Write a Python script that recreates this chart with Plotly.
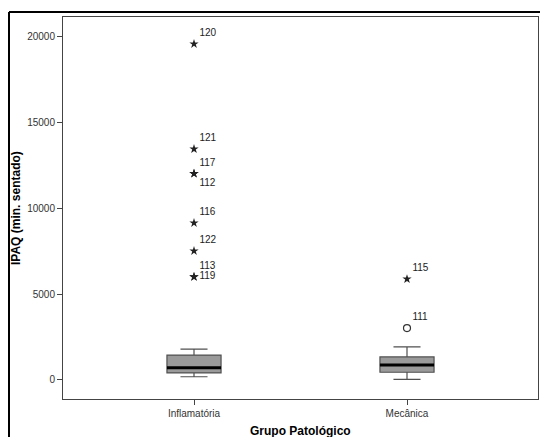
import plotly.graph_objects as go

# ---- data ----
categories = ["Inflamatória", "Mecânica"]
lower_whisker = [190, 40]
q1 = [410, 450]
median = [715, 870]
q3 = [1450, 1340]
upper_whisker = [1800, 1920]

# extreme outliers (stars)
extreme_x = [0, 0, 0, 0, 0, 0, 0, 0, 1]
extreme_y = [19535, 13430, 12000, 12000, 9130, 7500, 6000, 6000, 5870]
extreme_ids = ["120", "121", "117", "112", "116", "122", "113", "119", "115"]
extreme_textpos = ["top right", "top right", "top right", "bottom right",
                   "top right", "top right", "top right", "middle right", "top right"]

# mild outliers (circles)
mild_x = [1]
mild_y = [3020]
mild_ids = ["111"]

y_ticks = [0, 5000, 10000, 15000, 20000]
y_ticktext = ["0", "5000", "10000", "15000", "20000"]

BOX_W = 0.254
FONT = "Arial, Liberation Sans, sans-serif"

fig = go.Figure()

fig.add_trace(go.Box(
    x=[0, 1],
    q1=q1, median=median, q3=q3,
    lowerfence=lower_whisker, upperfence=upper_whisker,
    width=BOX_W, whiskerwidth=0.5,
    fillcolor="#9a9a9a",
    line=dict(color="#505050", width=1.2),
    boxpoints=False, hoverinfo="skip", showlegend=False,
))

# thick median lines
mx, my = [], []
for i, m in enumerate(median):
    mx += [i - BOX_W / 2, i + BOX_W / 2, None]
    my += [m, m, None]
fig.add_trace(go.Scatter(x=mx, y=my, mode="lines",
                         line=dict(color="black", width=3),
                         hoverinfo="skip", showlegend=False))

fig.add_trace(go.Scatter(
    x=extreme_x, y=extreme_y, mode="markers+text",
    marker=dict(symbol="star", size=7, color="#222222"),
    text=extreme_ids, textposition=extreme_textpos,
    textfont=dict(family=FONT, size=10, color="#222222"),
    hoverinfo="skip", showlegend=False,
))
fig.add_trace(go.Scatter(
    x=mild_x, y=mild_y, mode="markers+text",
    marker=dict(symbol="circle-open", size=7, color="#333333", line=dict(width=1.2)),
    text=mild_ids, textposition="top right",
    textfont=dict(family=FONT, size=10, color="#222222"),
    hoverinfo="skip", showlegend=False,
))

W, H = 540, 437
L, T = 63, 17
R = W - 538
B = H - 399
pw, ph = W - L - R, H - T - B

def px(xp):
    return (xp - L) / pw

def py(yp):
    return (H - B - yp) / ph

fig.update_layout(
    width=W, height=H,
    margin=dict(l=L, r=R, t=T, b=B, pad=0),
    paper_bgcolor="white", plot_bgcolor="white",
    font=dict(family=FONT, size=10, color="#333333"),
    xaxis=dict(
        range=[-0.615, 1.615], tickmode="array", tickvals=[0, 1], ticktext=categories,
        showgrid=False, zeroline=False, showline=True, mirror=True,
        linecolor="#444444", linewidth=1, ticks="outside", ticklen=5,
        tickcolor="#444444", tickfont=dict(size=10, color="#333333"),
    ),
    yaxis=dict(
        range=[-1105, 21105], tickmode="array", tickvals=y_ticks, ticktext=y_ticktext,
        showgrid=False, zeroline=False, showline=True, mirror=True,
        linecolor="#444444", linewidth=1, ticks="outside", ticklen=5,
        tickcolor="#444444", tickfont=dict(size=10, color="#333333"),
    ),
    annotations=[
        dict(text="<b>Grupo Patológico</b>", xref="paper", yref="paper",
             x=0.5, y=py(431), xanchor="center", yanchor="middle",
             showarrow=False, font=dict(size=12, color="black")),
        dict(text="<b>IPAQ (min. sentado)</b>", xref="paper", yref="paper",
             x=px(16), y=0.5, xanchor="center", yanchor="middle", textangle=-90,
             showarrow=False, font=dict(size=12, color="black")),
    ],
    shapes=[
        dict(type="line", xref="paper", yref="paper",
             x0=px(9), x1=px(545), y0=py(12), y1=py(12),
             line=dict(color="black", width=2)),
        dict(type="line", xref="paper", yref="paper",
             x0=px(9), x1=px(9), y0=py(12), y1=py(445),
             line=dict(color="black", width=2)),
    ],
)

fig.write_html(
    "out.html",
    config={"displayModeBar": False, "staticPlot": True},
    post_script="document.body.style.margin='0';document.body.style.overflow='hidden';"
                "document.documentElement.style.overflow='hidden';",
)
